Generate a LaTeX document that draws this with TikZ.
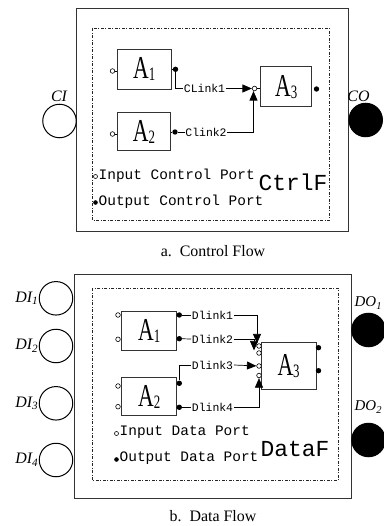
\documentclass[tikz,border=0pt]{standalone}
\usepackage{fontspec}
\usepackage{graphicx}
\setmainfont{Liberation Serif}
\newfontfamily\monof{Liberation Mono}
\usetikzlibrary{arrows.meta}

% activity name: tall, narrow "A" with a dropped index
\newcommand\actname[1]{\scalebox{0.68}[1]{\fontsize{32}{32}\selectfont A\raisebox{-2bp}{\fontsize{19}{19}\selectfont #1}}}

\tikzset{
  frame/.style={draw=black!80, line width=0.9bp},
  inner frame/.style={draw=black!85, line width=0.6bp,
    dash pattern=on 3bp off 1.5bp on 1bp off 1.5bp},
  actbox/.style={draw=black!80, line width=0.9bp, inner sep=0,
    minimum width=54bp, minimum height=39bp},
  inport/.style={circle, draw, fill=white, line width=0.6bp, inner sep=0,
    minimum size=4.6bp},
  outport/.style={circle, fill=black, inner sep=0, minimum size=5.4bp},
  wire/.style={line width=0.7bp},
  arr/.style={wire, -{Triangle[length=9.5bp,width=8bp]}},
  linklbl/.style={font=\monof\fontsize{11.5}{11.5}\selectfont, fill=white,
    inner sep=0.5bp},
  legend/.style={font=\monof\fontsize{14.5}{14.5}\selectfont, inner sep=0, anchor=west},
  flowname/.style={font=\monof\fontsize{23}{23}\selectfont, inner sep=0},
  iocircle/.style={circle, draw, line width=1bp, inner sep=0, minimum size=33.5bp},
  iolbl/.style={font=\fontsize{16}{16}\selectfont\itshape, inner sep=0},
  caption/.style={font=\fontsize{16}{16}\selectfont, inner sep=0},
}

\begin{document}
\begin{tikzpicture}[x=1bp, y=-1bp]
\useasboundingbox (0,0) rectangle (383,526);

% ---------------- a. control flow ----------------
\draw[frame] (76.7,8.3) rectangle (348.3,231.7);
\draw[inner frame] (92.7,28.3) rectangle (329.3,220.7);

\node[actbox, minimum width=53.7bp, minimum height=40bp] (ca1) at (144.2,69) {\actname{1}};
\node[actbox, minimum width=53.5bp, minimum height=38bp] (ca2) at (144,131.5) {\actname{2}};
\node[actbox, minimum width=51bp, minimum height=40bp] (ca3) at (286.2,86.7) {\actname{3}};

\node[inport]  (ca1i) at (112.5,71) {};
\node[outport] (ca1o) at (175.5,69.3) {};
\node[inport]  (ca2i) at (112.5,134) {};
\node[outport] (ca2o) at (175,132) {};
\node[inport]  (ca3i) at (254.5,88.5) {};
\node[outport] (ca3o) at (316.5,89) {};

\draw[wire] (ca1i) -- (ca1i -| ca1.west);
\draw[wire] (ca1o) -- (ca1o -| ca1.east);
\draw[wire] (ca2i) -- (ca2i -| ca2.west);
\draw[wire] (ca2o) -- (ca2o -| ca2.east);
\draw[wire] (ca3i) -- (ca3i -| ca3.west);

\node[linklbl] (cl1) at (204.5,88.5) {CLink1};
\node[linklbl] (cl2) at (206,132) {Clink2};
\draw[wire] (ca1o) |- (cl1.west);
\draw[arr] (cl1.east) -- (ca3i);
\draw[wire] (ca2o) -- (cl2.west);
\draw[arr] (cl2.east) -| ([xshift=-1bp]ca3i.south);

\node[inport, minimum size=4bp] (cli) at (95.5,176.5) {};
\node[legend] (clt1) at (98.5,176) {Input Control Port};
\node[outport, minimum size=4.6bp] (clo) at (95.5,202.5) {};
\node[legend] (clt2) at (98.5,202) {Output Control Port};
\node[flowname] (cfn) at (293,182.5) {CtrlF};

\node[iocircle] (ci) at (59.5,121) {};
\node[iocircle, fill=black] (co) at (365.7,120) {};
\node[iolbl] (cil) at (59,96) {CI};
\node[iolbl] (col) at (358.5,96) {CO};

\node[caption] (capa) at (213,251.5) {a.\ \ Control Flow};

% ---------------- b. data flow ----------------
\draw[frame] (74,274) rectangle (351.7,498.3);
\draw[inner frame] (92.3,288.3) rectangle (338,480.7);

\node[actbox, minimum width=55bp, minimum height=39bp] (da1) at (149.2,330.5) {\actname{1}};
\node[actbox, minimum width=55bp, minimum height=38bp] (da2) at (149.2,396.7) {\actname{2}};
\node[actbox, minimum width=55bp, minimum height=47bp] (da3) at (288.6,365.8) {\actname{3}};

\node[inport]  (da1i1) at (118,315) {};
\node[inport]  (da1i2) at (118,339.3) {};
\node[outport] (da1o1) at (179.3,315) {};
\node[outport] (da1o2) at (179.3,338.7) {};
\node[inport]  (da2i1) at (118,386) {};
\node[inport]  (da2i2) at (118,406.7) {};
\node[outport] (da2o1) at (179.3,383.3) {};
\node[outport] (da2o2) at (179.3,407.3) {};
\node[inport]  (da3i1) at (259,346) {};
\node[inport]  (da3i2) at (259,353) {};
\node[inport]  (da3i3) at (259,366) {};
\node[inport]  (da3i4) at (259,375.5) {};
\node[outport] (da3o1) at (318.5,347.7) {};
\node[outport] (da3o2) at (318.5,370.7) {};

\node[linklbl] (dl1) at (212.5,315) {Dlink1};
\node[linklbl] (dl2) at (212.5,339) {Dlink2};
\node[linklbl] (dl3) at (212.5,365) {Dlink3};
\node[linklbl] (dl4) at (212.5,407.3) {Dlink4};

\draw[wire] (da1o1) -- (dl1.west);
\draw[arr] (dl1.east) -| ([xshift=-2bp]da3i1.north);
\draw[wire] (da1o2) -- (dl2.west);
\draw[arr] (dl2.east) -| ([xshift=-5bp]da3i2.north);
\draw[wire] (da2o1) |- (dl3.west);
\draw[arr] (dl3.east) -- (da3i3);
\draw[wire] (da2o2) -- (dl4.west);
\draw[arr] (dl4.east) -| (da3i4.south);

\node[inport, minimum size=4bp] (dli) at (116.5,433.5) {};
\node[legend] (dlt1) at (119.5,432.5) {Input Data Port};
\node[outport, minimum size=4.6bp] (dlo) at (116.5,459.5) {};
\node[legend] (dlt2) at (119.5,458) {Output Data Port};
\node[flowname] (dfn) at (295,448.5) {DataF};

\node[iocircle] (di1) at (56,298.3) {};
\node[iocircle] (di2) at (56,346) {};
\node[iocircle] (di3) at (56,403.3) {};
\node[iocircle] (di4) at (56,460) {};
\node[iolbl, anchor=east] (di1l) at (38.5,298.3) {DI\textsubscript{1}};
\node[iolbl, anchor=east] (di2l) at (38.5,346) {DI\textsubscript{2}};
\node[iolbl, anchor=east] (di3l) at (38.5,403.3) {DI\textsubscript{3}};
\node[iolbl, anchor=east] (di4l) at (38.5,460) {DI\textsubscript{4}};

\node[iocircle, fill=black] (do1) at (368.5,330) {};
\node[iocircle, fill=black] (do2) at (368.5,440) {};
\node[iolbl, anchor=west, font=\fontsize{15}{15}\selectfont\itshape] (do1l) at (354.5,303) {DO\textsubscript{1}};
\node[iolbl, anchor=west, font=\fontsize{15}{15}\selectfont\itshape] (do2l) at (354.5,407) {DO\textsubscript{2}};

\node[caption] (capb) at (213,516.5) {b.\ \ Data Flow};
\end{tikzpicture}
\end{document}
